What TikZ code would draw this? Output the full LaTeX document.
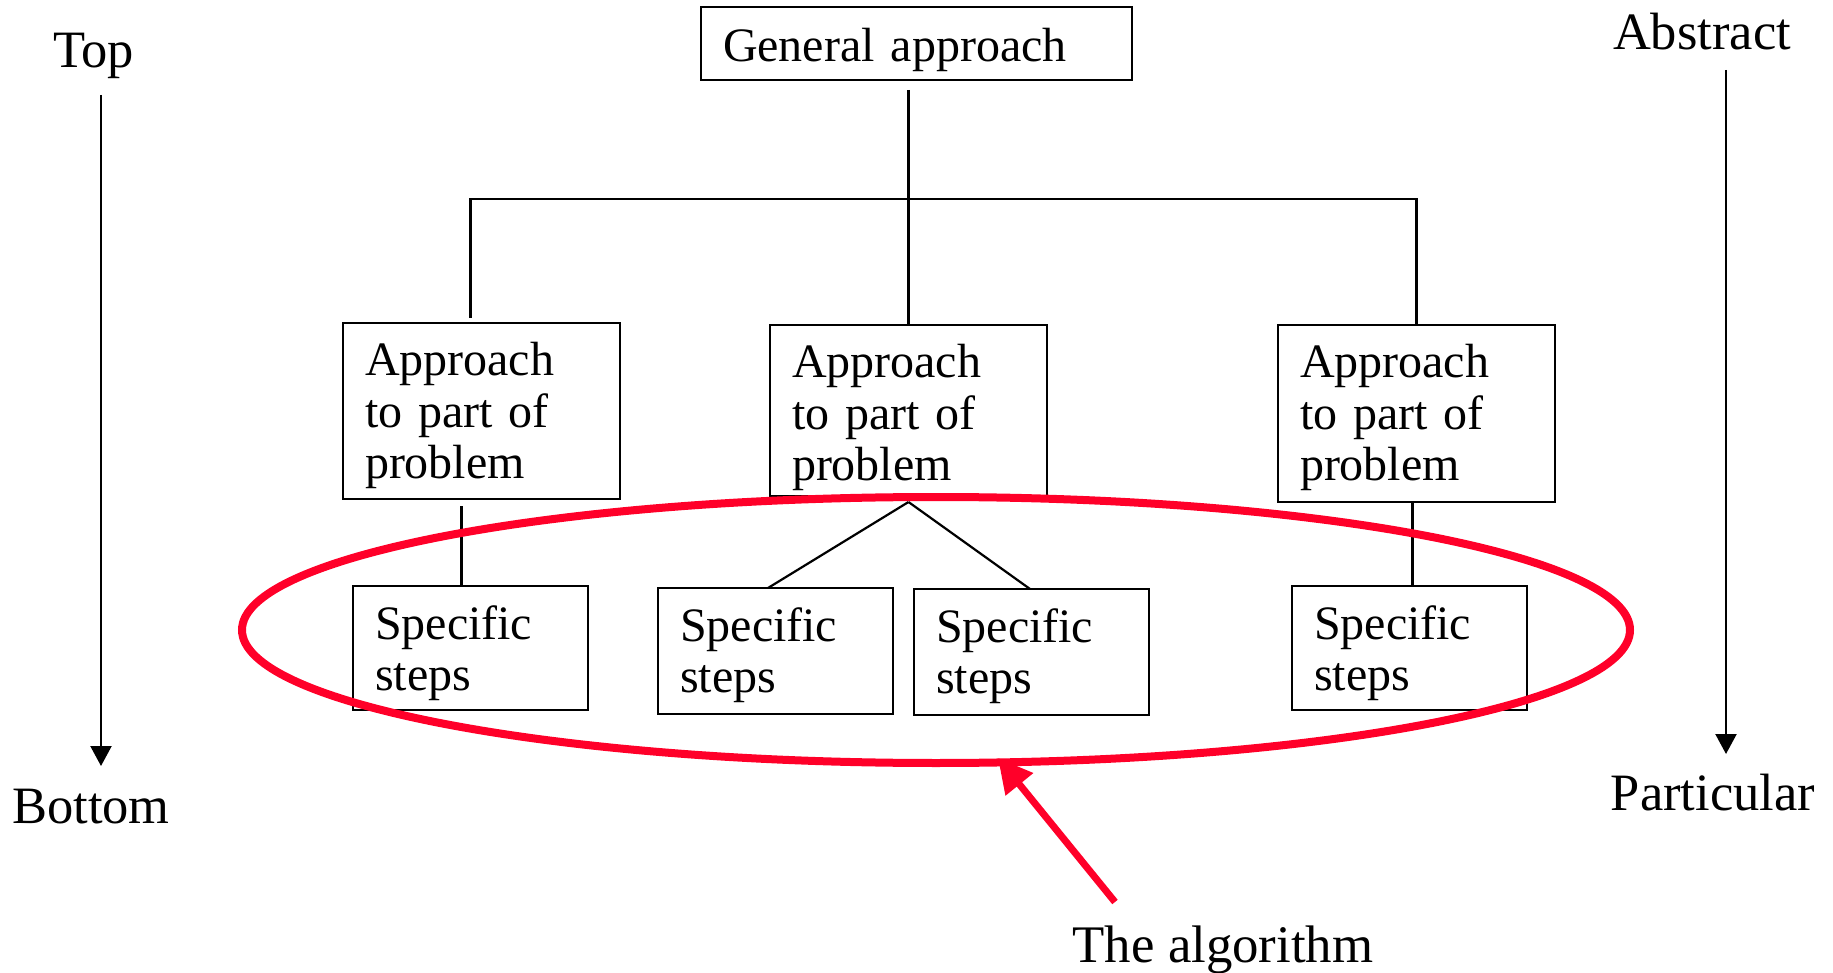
\documentclass[tikz,border=0pt]{standalone}
\usepackage{fontspec}
\setmainfont{Liberation Serif}
\usetikzlibrary{arrows.meta}
\definecolor{algored}{RGB}{255,0,41}
\tikzset{
  box/.style={draw, line width=1.1pt, anchor=north west, inner xsep=11pt,
    inner ysep=0pt, outer sep=0pt, align=left,
    font=\fontsize{24}{25.75}\selectfont},
  bigbox/.style={box, text width=116.5pt, text height=26.5pt, text depth=61.5pt},
  stepbox/.style={box, text width=95.5pt, text height=26.5pt, text depth=35.5pt},
  link/.style={line width=1.1pt},
  side/.style={anchor=base, inner sep=0pt, font=\fontsize{26.25}{30}\selectfont},
  axis/.style={line width=1.1pt, -{Triangle[length=10pt,width=10.5pt]}},
  pointer/.style={line width=3.5pt, algored, -{Triangle[length=17pt,width=17pt]}},
}
\begin{document}
\begin{tikzpicture}[x=0.5pt, y=-0.5pt]
\useasboundingbox (0,0) rectangle (1833,973);

% hierarchy boxes
\node[box, text width=193.5pt, text height=27.5pt, text depth=9pt] (ga) at (701,7) {General approach};
\node[bigbox] (ap1) at (343,323) {Approach\\to part of\\problem};
\node[bigbox, text depth=59pt] (ap2) at (770,325) {Approach\\to part of\\problem};
\node[bigbox, text depth=62pt] (ap3) at (1278,325) {Approach\\to part of\\problem};
\node[stepbox] (sp1) at (353,586) {Specific\\steps};
\node[stepbox, text depth=36.5pt] (sp2) at (658,588) {Specific\\steps};
\node[stepbox, text depth=36.5pt] (sp3) at (914,589) {Specific\\steps};
\node[stepbox] (sp4) at (1292,586) {Specific\\steps};

% tree connectors
\coordinate (bar) at (0,199);
\draw[link] ([yshift=-5pt]ga.south -| ap2.north) -- (ap2.north);
\draw[link] ([xshift=-5.5pt,yshift=2.5pt]ap1.north) |- (ap3.north |- bar) -- (ap3.north);
\draw[link] ([xshift=-10pt,yshift=-3.5pt]ap1.south) -- ([xshift=-10pt]ap1.south |- sp1.north);
\draw[link] ([xshift=-2pt]ap3.south) -- ([xshift=-2pt]ap3.south |- sp4.north);
\coordinate (split) at ([yshift=-3pt]ap2.south);
\draw[link] (split) -- ([xshift=-3.75pt]sp2.north);
\draw[link] (split) -- ([xshift=-0.75pt]sp3.north);

% side scales
\node[side] (top) at (93.5,68) {Top};
\node[side] (bottom) at (91,823) {Bottom};
\node[side] (abstract) at (1702,50) {Abstract};
\node[side] (particular) at (1713,810) {Particular};
\coordinate (tb-start) at (101,95);
\coordinate (tb-end) at (101,766);
\coordinate (ap-start) at (1726,70);
\coordinate (ap-end) at (1726,754);
\draw[axis] (tb-start) -- (tb-end);
\draw[axis] (ap-start) -- (ap-end);

% the algorithm
\draw[algored, line width=4pt] (936,630) ellipse [x radius=347pt, y radius=66.5pt];
\node[side, font=\fontsize{26.4}{30}\selectfont] (algo) at (1223,962) {The algorithm};
\coordinate (ptr-tail) at (1115,902);
\coordinate (ptr-tip) at (998,758);
\draw[pointer] (ptr-tail) -- (ptr-tip);
\end{tikzpicture}
\end{document}
